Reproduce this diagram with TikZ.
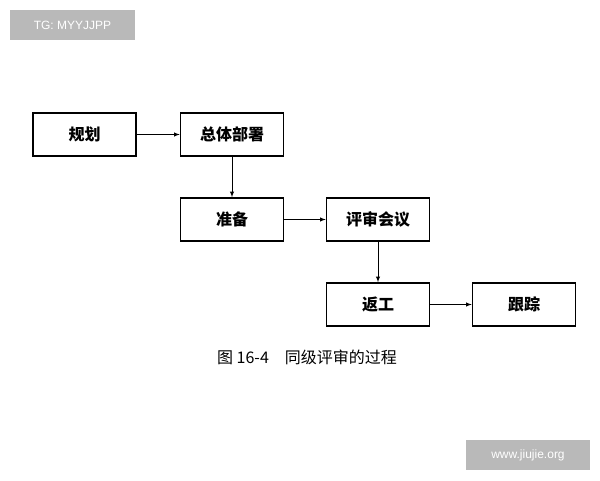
\documentclass[tikz,border=0pt]{standalone}
\usepackage{fontspec}
\newfontfamily\cjk{Noto Sans CJK SC}
\setmainfont{Liberation Sans}
\begin{document}
\begin{tikzpicture}[x=1pt,y=-1pt,
 box/.style={draw,line width=1.6pt,minimum width=103pt,minimum height=43pt,font=\cjk\bfseries\fontsize{16}{18}\selectfont,inner sep=0},
 arr/.style={-latex,line width=0.9pt},
 wm/.style={fill=gray!55,text=white,font=\fontsize{12}{14}\selectfont,inner sep=0}]
\useasboundingbox[fill=white] (0,0) rectangle (600,480);
\node[wm,minimum width=125pt,minimum height=30pt] (tg) at (72.5,25) {TG: MYYJJPP};
\node[wm,minimum width=124pt,minimum height=30pt] (www) at (528,455) {www.jiujie.org};
\node[box] (a) at (84.5,134.5) {规划};
\node[box] (b) at (232,134.5) {总体部署};
\node[box] (c) at (232,219.5) {准备};
\node[box] (d) at (378,219.5) {评审会议};
\node[box] (e) at (378,304.5) {返工};
\node[box] (f) at (524,304.5) {跟踪};
\draw[arr] (a) -- (b);
\draw[arr] (b) -- (c);
\draw[arr] (c) -- (d);
\draw[arr] (d) -- (e);
\draw[arr] (e) -- (f);
\node[font=\cjk\fontsize{16}{18}\selectfont] (cap) at (307,357) {图 16-4\quad 同级评审的过程};
\end{tikzpicture}
\end{document}
